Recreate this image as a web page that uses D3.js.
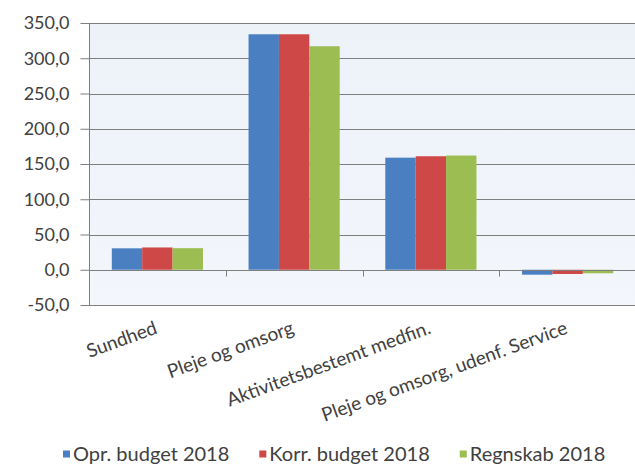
<!DOCTYPE html>
<html>
<head>
<meta charset="utf-8">
<script src="https://cdn.jsdelivr.net/npm/d3@7/dist/d3.min.js"></script>
<style>
  html, body { margin: 0; padding: 0; background: #ffffff; }
  svg { display: block; }
  text { font-family: Lato, "Open Sans", sans-serif; fill: #404040; }
</style>
</head>
<body>
<svg id="chart" width="635" height="466"></svg>
<script>
// Budget areas and the three series
const categories = ["Sundhed", "Pleje og omsorg", "Aktivitetsbestemt medfin.", "Pleje og omsorg, udenf. Service"];
const seriesNames = ["Opr. budget 2018", "Korr. budget 2018", "Regnskab 2018"];
const oprBudget = [30.4, 334.0, 159.0, -7.0];
const korrBudget = [31.6, 334.0, 161.0, -6.0];
const regnskab = [30.6, 317.0, 162.0, -5.0];
const yTicks = [-50, 0, 50, 100, 150, 200, 250, 300, 350];
const colors = ["#4a7fc2", "#cd4846", "#9bbd52"];

const seriesValues = [oprBudget, korrBudget, regnskab];
const rows = categories.map((c, i) => ({
  category: c,
  values: seriesNames.map((s, k) => ({ series: s, value: seriesValues[k][i], k }))
}));

const svg = d3.select("#chart");
const plotLeft = 89, plotRight = 636, plotTop = 23, plotBottom = 305;

const y = d3.scaleLinear().domain([-50, 350]).range([plotBottom, plotTop]);
const x0 = d3.scaleBand().domain(categories).range([plotLeft, plotRight]).paddingInner(0).paddingOuter(0);
const x1 = d3.scaleBand().domain(seriesNames).range([0, x0.bandwidth()]).paddingInner(0).paddingOuter(0.75);

// Plot area background
const defs = svg.append("defs");
const grad = defs.append("linearGradient").attr("id", "bg").attr("x1", 0).attr("y1", 0).attr("x2", 0).attr("y2", 1);
grad.append("stop").attr("offset", "0%").attr("stop-color", "#edf2f9");
grad.append("stop").attr("offset", "100%").attr("stop-color", "#f3f6fb");
svg.append("rect")
  .attr("x", plotLeft).attr("y", plotTop)
  .attr("width", plotRight - plotLeft).attr("height", plotBottom - plotTop)
  .attr("fill", "url(#bg)");

// Horizontal gridlines
svg.append("g")
  .selectAll("line")
  .data(yTicks.filter(t => t !== 0))
  .join("line")
  .attr("x1", plotLeft).attr("x2", plotRight)
  .attr("y1", d => Math.round(y(d)) + 0.5).attr("y2", d => Math.round(y(d)) + 0.5)
  .attr("stroke", "#7f7f7f").attr("stroke-width", 1);

// Y axis
const fmt = d => d3.format(".1f")(d).replace(".", ",").replace("−", "-");
const yAxis = svg.append("g")
  .attr("transform", `translate(${plotLeft + 0.5},0)`)
  .call(d3.axisLeft(y).tickValues(yTicks).tickFormat(fmt).tickSize(9).tickPadding(11));
yAxis.select(".domain").attr("stroke", "#7f7f7f").attr("d", `M0,${plotTop}V${plotBottom}`);
yAxis.selectAll(".tick line").attr("stroke", "#7f7f7f");
yAxis.selectAll(".tick text")
  .attr("font-size", "18px")
  .attr("fill", "#404040")
  .style("font-family", "Lato, 'Open Sans', sans-serif");

// Bars
const groups = svg.append("g")
  .selectAll("g")
  .data(rows)
  .join("g")
  .attr("transform", d => `translate(${x0(d.category)},0)`);
groups.selectAll("rect")
  .data(d => d.values)
  .join("rect")
  .attr("x", d => x1(d.series))
  .attr("width", x1.bandwidth())
  .attr("y", d => y(Math.max(0, d.value)))
  .attr("height", d => Math.abs(y(d.value) - y(0)))
  .attr("fill", d => colors[d.k]);

// Category axis along zero
const xAxis = svg.append("g")
  .attr("transform", `translate(0,${Math.round(y(0)) + 0.5})`);
xAxis.append("line")
  .attr("x1", plotLeft).attr("x2", plotRight)
  .attr("stroke", "#7f7f7f");
xAxis.selectAll("line.tk")
  .data(categories.slice(1))
  .join("line")
  .attr("class", "tk")
  .attr("x1", d => Math.round(x0(d)) + 0.5).attr("x2", d => Math.round(x0(d)) + 0.5)
  .attr("y1", 0).attr("y2", 6)
  .attr("stroke", "#7f7f7f");

// Rotated category labels
svg.append("g")
  .selectAll("text")
  .data(categories)
  .join("text")
  .attr("transform", d => `translate(${x0(d) + x0.bandwidth() / 2 + 1},${plotBottom + 28}) rotate(-20)`)
  .attr("text-anchor", "end")
  .attr("font-size", "19px")
  .text(d => d);

// Legend: items laid out left to right
const legend = svg.append("g").attr("transform", "translate(63,454)");
let cursor = 0;
seriesNames.forEach((name, k) => {
  legend.append("rect")
    .attr("x", cursor).attr("y", -3.5)
    .attr("width", 7).attr("height", 7)
    .attr("fill", colors[k]);
  const t = legend.append("text")
    .attr("x", cursor + 10).attr("y", 7)
    .attr("font-size", "20px")
    .text(name);
  cursor += 10 + t.node().getComputedTextLength() + 30;
});
</script>
</body>
</html>
